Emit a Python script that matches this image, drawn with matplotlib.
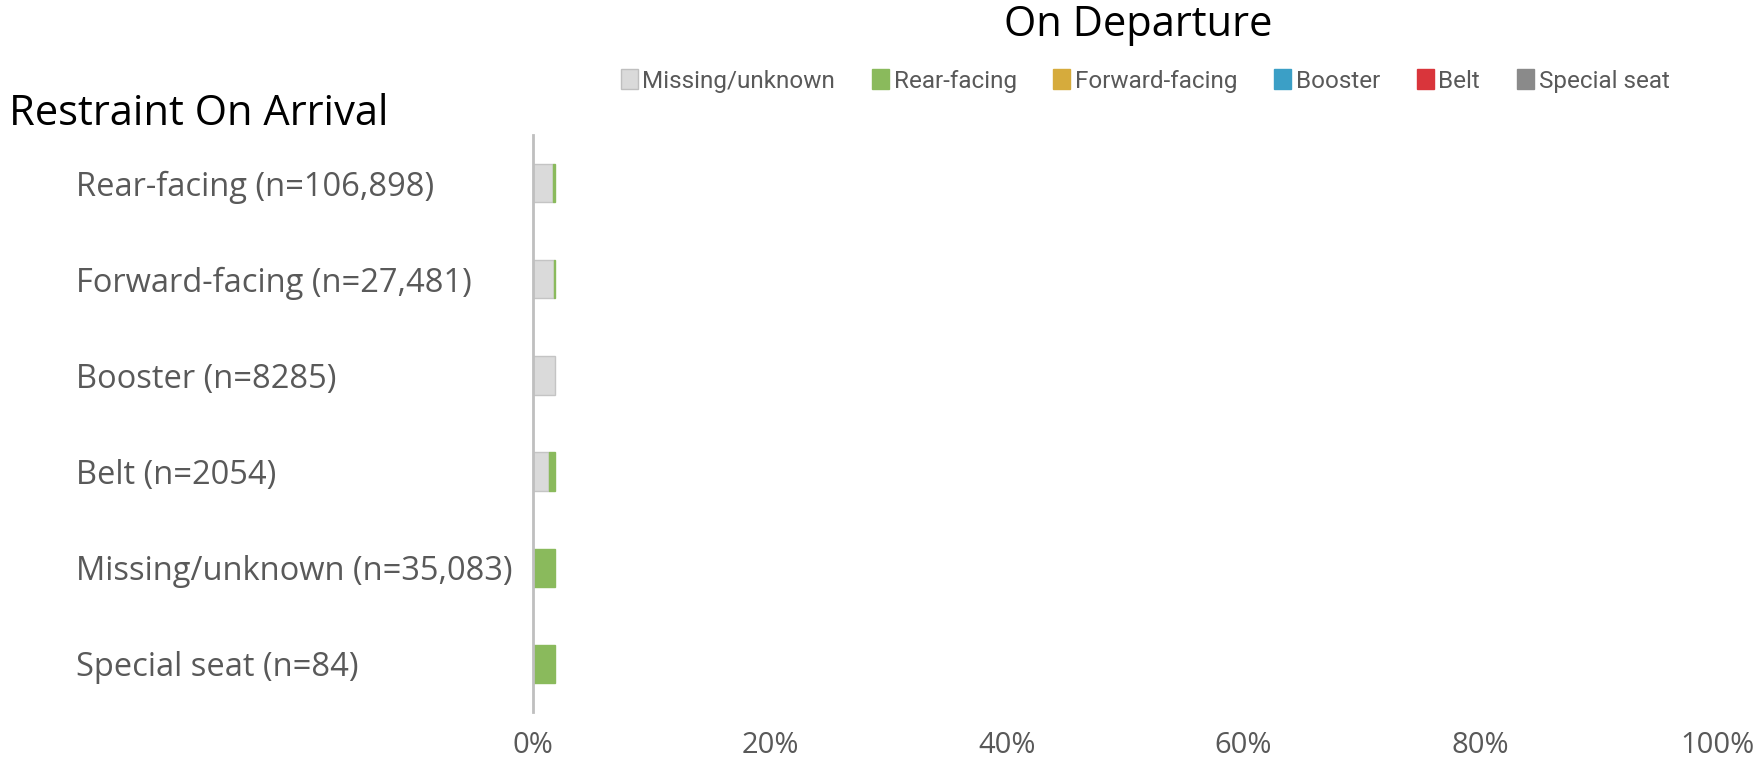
import matplotlib
matplotlib.use("Agg")
import matplotlib.pyplot as plt
from matplotlib.patches import Patch
import numpy as np

categories = ["Rear-facing (n=106,898)", "Forward-facing (n=27,481)", "Booster (n=8285)",
              "Belt (n=2054)", "Missing/unknown (n=35,083)", "Special seat (n=84)"]
series_names = ["Missing/unknown", "Rear-facing", "Forward-facing", "Booster", "Belt", "Special seat"]
missing = [1.70, 1.75, 1.85, 1.35, 0.00, 0.00]
rear = [0.15, 0.10, 0.00, 0.50, 1.85, 1.85]
forward = [0, 0, 0, 0, 0, 0]
booster = [0, 0, 0, 0, 0, 0]
belt = [0, 0, 0, 0, 0, 0]
special = [0, 0, 0, 0, 0, 0]
xticks = [0, 20, 40, 60, 80, 100]
xticklabels = ["0%", "20%", "40%", "60%", "80%", "100%"]

colors = ["#dadada", "#8aba5c", "#d6ab3c", "#3b9fc6", "#d9353b", "#8a8a8a"]
series = [missing, rear, forward, booster, belt, special]

fig = plt.figure(figsize=(17.65, 7.67), dpi=100)
ax = fig.add_axes([0.302, 0.0717, 0.671, 0.7523])

y = np.arange(len(categories))
left = np.zeros(len(categories))
for vals, c in zip(series, colors):
    v = np.array(vals, dtype=float)
    mask = v > 0
    if mask.any():
        ax.barh(y[mask], v[mask], left=left[mask], height=0.4, color=c,
                edgecolor="#c4c4c4" if c == "#dadada" else c, linewidth=1.0)
    left += v

ax.set_xlim(0, 100)
ax.set_ylim(len(categories) - 0.5, -0.5)
ax.set_yticks(y)
ax.set_yticklabels(categories, fontsize=23.5, color="#595959", family=["Open Sans", "DejaVu Sans"])
for t in ax.get_yticklabels():
    t.set_horizontalalignment("left")
ax.tick_params(axis="y", length=0, pad=329)
ax.set_xticks(xticks)
ax.set_xticklabels(xticklabels, fontsize=21, color="#595959", family=["Open Sans", "DejaVu Sans"])
ax.tick_params(axis="x", length=0, pad=14)
for s in ["top", "right", "bottom"]:
    ax.spines[s].set_visible(False)
ax.spines["left"].set_color("#bfbfbf")
ax.spines["left"].set_linewidth(2)

fig.text(1138 / 1765, 1 - 25 / 767, "On Departure", fontsize=30, ha="center", va="center",
         family=["Open Sans", "DejaVu Sans"], color="black")
fig.text(9 / 1765, 1 - 114 / 767, "Restraint On Arrival", fontsize=30, ha="left", va="center",
         family=["Open Sans", "DejaVu Sans"], color="black")

handles = [Patch(facecolor=c, edgecolor="#bfbfbf" if c == "#dadada" else c) for c in colors]
fig.legend(handles, series_names, loc="center", bbox_to_anchor=(1145 / 1765, 1 - 81 / 767), ncol=6,
           frameon=False, handlelength=0.7, handleheight=0.9, handletextpad=0.2, columnspacing=1.5,
           prop={"family": ["Roboto", "DejaVu Sans"], "size": 17.5}, labelcolor="#595959")

fig.savefig("out.png", dpi=100)
